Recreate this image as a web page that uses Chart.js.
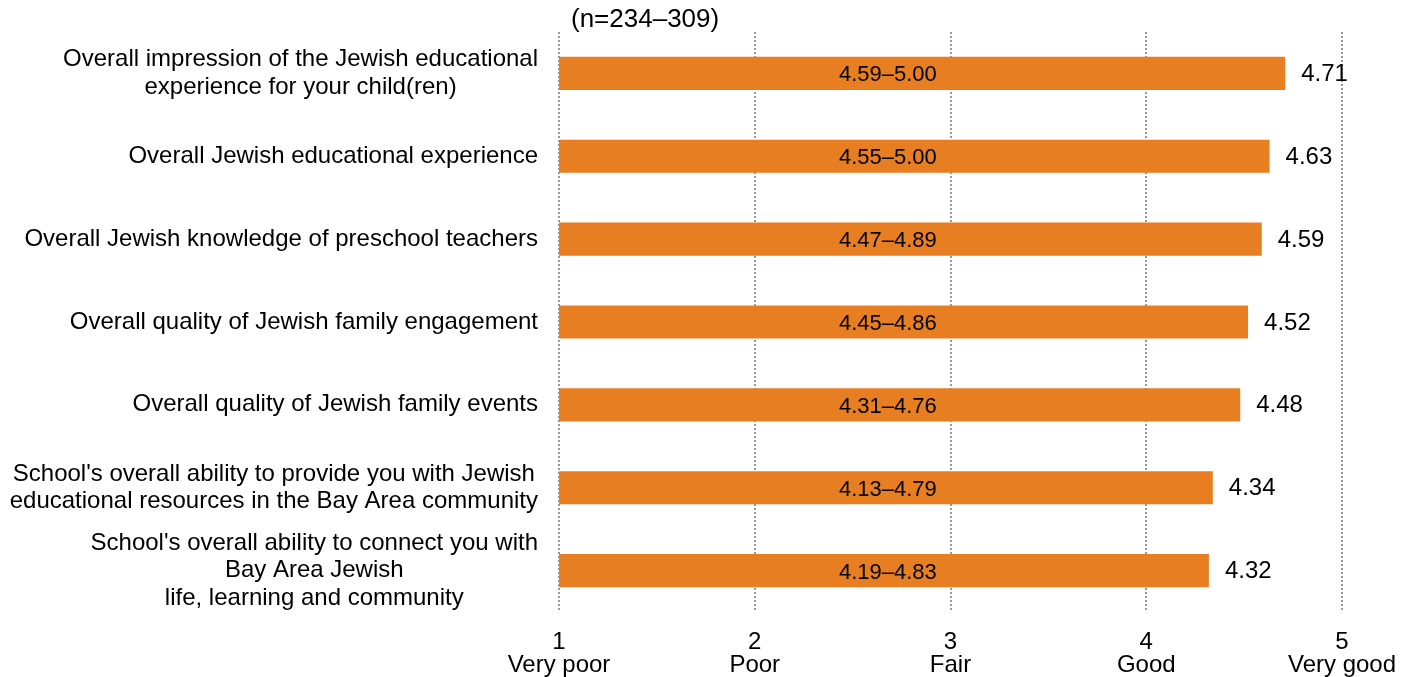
<!DOCTYPE html>
<html>
<head>
<meta charset="utf-8">
<script src="https://cdn.jsdelivr.net/npm/chart.js@4/dist/chart.umd.min.js"></script>
<style>
  html, body { margin: 0; padding: 0; background: #fff; }
  #wrap { width: 1410px; height: 677px; position: relative; }
</style>
</head>
<body>
<div id="wrap"><canvas id="chart"></canvas></div>
<script>
// データ
const categories = [
  ["Overall impression of the Jewish educational", "experience for your child(ren)"],
  ["Overall Jewish educational experience"],
  ["Overall Jewish knowledge of preschool teachers"],
  ["Overall quality of Jewish family engagement"],
  ["Overall quality of Jewish family events"],
  ["School's overall ability to provide you with Jewish", "educational resources in the Bay Area community"],
  ["School's overall ability to connect you with", "Bay Area Jewish", "life, learning and community"]
];
const means = [4.71, 4.63, 4.59, 4.52, 4.48, 4.34, 4.32];
const ranges = ["4.59–5.00", "4.55–5.00", "4.47–4.89", "4.45–4.86", "4.31–4.76", "4.13–4.79", "4.19–4.83"];
const tickNames = { 1: "Very poor", 2: "Poor", 3: "Fair", 4: "Good", 5: "Very good" };
const sampleNote = "(n=234–309)";

const FONT = "'Liberation Sans', Arial, sans-serif";
const ORANGE = "#E87E22";

// ラベル描画プラグイン
const labelPlugin = {
  id: "labels",
  afterDraw(chart) {
    const ctx = chart.ctx;
    const xs = chart.scales.x, ys = chart.scales.y;
    const meta = chart.getDatasetMeta(0);
    ctx.save();
    ctx.fillStyle = "#000";
    ctx.textBaseline = "middle";

    // 値ラベル
    ctx.font = "24px " + FONT;
    ctx.textAlign = "left";
    meta.data.forEach((bar, i) => {
      ctx.fillText(means[i].toFixed(2), bar.x + 16, bar.y + 1);
    });

    // 信頼区間ラベル
    ctx.font = "22px " + FONT;
    ctx.textAlign = "center";
    const rx = xs.getPixelForValue(2.68);
    meta.data.forEach((bar, i) => {
      ctx.fillText(ranges[i], rx, bar.y + 2);
    });

    // カテゴリラベル（複数行は中央揃え）
    ctx.font = "24px " + FONT;
    const lh = 27.5;
    const rightEdge = 538;
    categories.forEach((lines, i) => {
      const cy = ys.getPixelForValue(i);
      const w = Math.max(...lines.map(l => ctx.measureText(l).width));
      const cx = rightEdge - w / 2;
      const y0 = cy - (lines.length - 1) * lh / 2;
      lines.forEach((l, j) => ctx.fillText(l, cx, y0 + j * lh));
    });

    // n 表記
    ctx.font = "26px " + FONT;
    ctx.textAlign = "left";
    ctx.fillText(sampleNote, xs.left + 12, 20);
    ctx.restore();
  }
};

new Chart(document.getElementById("chart"), {
  type: "bar",
  data: {
    labels: categories,
    datasets: [{
      data: means,
      backgroundColor: ORANGE,
      borderWidth: 0,
      categoryPercentage: 0.8,
      barPercentage: 0.5
    }]
  },
  options: {
    indexAxis: "y",
    responsive: true,
    maintainAspectRatio: false,
    animation: false,
    layout: { padding: { top: 32, right: 68, left: 0, bottom: 0 } },
    plugins: { legend: { display: false }, tooltip: { enabled: false } },
    scales: {
      x: {
        min: 1, max: 5,
        ticks: {
          stepSize: 1,
          color: "#000",
          font: { family: FONT, size: 24, lineHeight: 0.95 },
          padding: 19,
          callback: (v) => [String(v), tickNames[v] || ""]
        },
        grid: {
          color: "#999",
          lineWidth: 2,
          drawTicks: false
        },
        border: { display: false, dash: [2, 2] },
        afterFit: (s) => { s.height = 65; s.paddingLeft = 0; s.paddingRight = 0; }
      },
      y: {
        ticks: { display: false },
        grid: { display: false },
        border: { display: false },
        afterFit: (s) => { s.width = 559; }
      }
    }
  },
  plugins: [labelPlugin]
});
</script>
</body>
</html>
